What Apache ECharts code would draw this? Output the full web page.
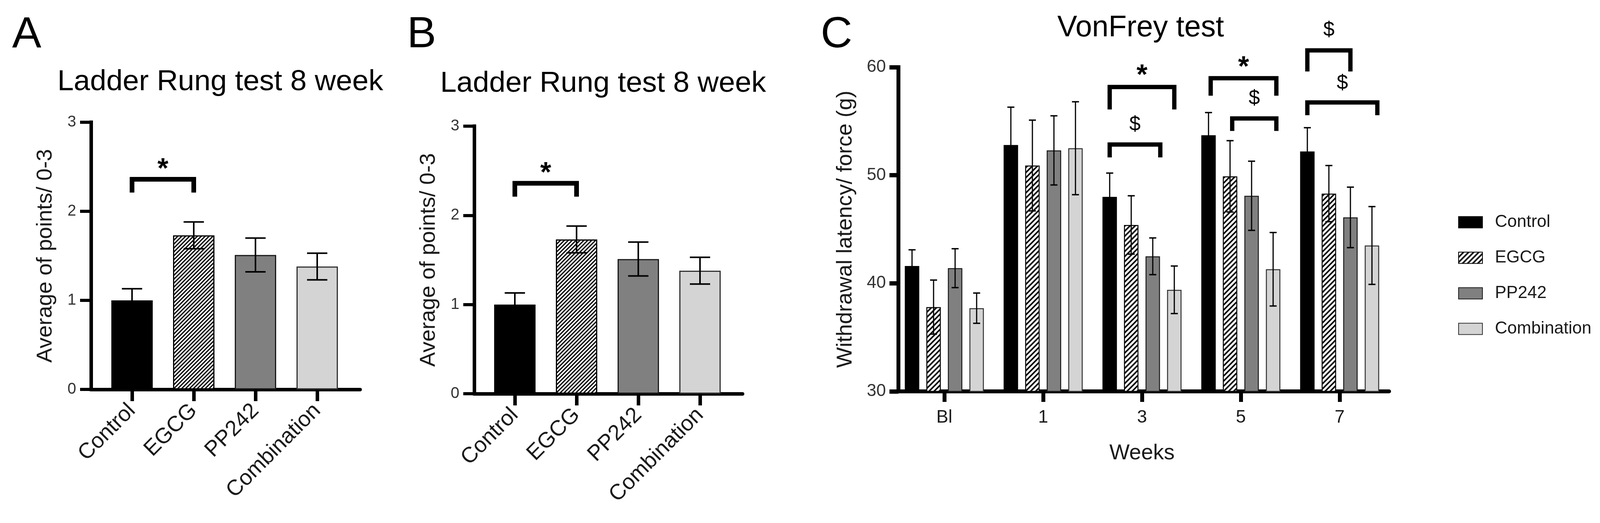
<!DOCTYPE html>
<html>
<head>
<meta charset="utf-8">
<script src="https://cdn.jsdelivr.net/npm/echarts@6/dist/echarts.min.js"></script>
<style>html,body{margin:0;padding:0;background:#fff;overflow:hidden}#c{width:4128px;height:1339px}</style>
</head>
<body>
<div id="c"></div>
<script>
// ---------------- DATA ----------------
const ladderGroups = ['Control', 'EGCG', 'PP242', 'Combination'];
const ladderTitle = 'Ladder Rung test 8 week';
const ladderYName = 'Average of points/ 0-3';
// Panel A
const ladderMeanA = [1.00, 1.73, 1.51, 1.38];
const ladderSemA  = [0.13, 0.15, 0.19, 0.15];
// Panel B
const ladderMeanB = [1.00, 1.73, 1.51, 1.38];
const ladderSemB  = [0.13, 0.15, 0.19, 0.15];
// significance: [fromCat, toCat, topY, legEndY, labelY, label]
const ladderSig = [[0, 0.95, 2.36, 2.21, 2.54, '*']];

// Panel C
const weeks = ['Bl', '1', '3', '5', '7'];
const vfGroups = ['Control', 'EGCG', 'PP242', 'Combination'];
const vfControl     = [41.6, 52.8, 48.0, 53.7, 52.2];
const vfControlErr  = [1.5, 3.5, 2.2, 2.1, 2.2];
const vfEGCG        = [37.8, 50.9, 45.4, 49.9, 48.3];
const vfEGCGErr     = [2.5, 4.2, 2.7, 3.3, 2.6];
const vfPP242       = [41.4, 52.3, 42.5, 48.1, 46.1];
const vfPP242Err    = [1.8, 3.2, 1.7, 3.2, 2.8];
const vfCombo       = [37.7, 52.5, 39.4, 41.3, 43.5];
const vfComboErr    = [1.4, 4.3, 2.2, 3.4, 3.6];
// significance: [weekIndex, fromBarSlot, toBarSlot, topY, legEndY, labelY, label]
const vfSig = [
  [2, 0,   3,    58.17, 56.09, 59.78, '*'],
  [2, 0,   2.35, 52.84, 51.65, 54.65, '$'],
  [3, 0.1, 3.15, 58.98, 57.36, 60.54, '*'],
  [3, 1.1, 3.15, 55.26, 54.10, 57.10, '$'],
  [4, 0,   2,    61.55, 59.60, 63.40, '$'],
  [4, 0,   3.25, 56.74, 55.55, 58.50, '$']
];

// ---------------- STYLE ----------------
const FONT = '"Liberation Sans", Arial, Helvetica, sans-serif';
function hatch(size, lw) {
  const c = document.createElement('canvas');
  c.width = size; c.height = size;
  const ctx = c.getContext('2d');
  ctx.fillStyle = '#fff'; ctx.fillRect(0, 0, size, size);
  ctx.strokeStyle = '#000'; ctx.lineWidth = lw;
  ctx.beginPath();
  ctx.moveTo(-2, size + 2); ctx.lineTo(size + 2, -2);
  ctx.moveTo(-2, 2); ctx.lineTo(2, -2);
  ctx.moveTo(size - 2, size + 2); ctx.lineTo(size + 2, size - 2);
  ctx.stroke();
  return { image: c, repeat: 'repeat' };
}
const hatchAB = hatch(10, 3.2);
const hatchC = hatch(13, 4);
const fillsAB = ['#000000', hatchAB, '#808080', '#d4d4d4'];
const fillsC = ['#000000', hatchC, '#808080', '#d4d4d4'];
const borders = ['#000000', '#000000', '#1a1a1a', '#333333'];

const C_BAR_W = 37, C_GAP = 0.49, C_STEP = C_BAR_W * (1 + C_GAP);
const STAR_FONT = 'bold 72px ' + FONT, DOLLAR_FONT = '52px ' + FONT;

const chart = echarts.init(document.getElementById('c'), null, { renderer: 'canvas', width: 4128, height: 1339 });

function ladderAxes(gAxis, gBand) {
  return {
    x: [
      { type: 'value', gridIndex: gAxis, min: 0, max: 1, axisLine: { show: true, lineStyle: { color: '#000', width: 9 } },
        axisTick: { show: false }, axisLabel: { show: false }, splitLine: { show: false } },
      { type: 'category', gridIndex: gBand, data: ladderGroups,
        axisLine: { show: false },
        axisTick: { show: true, alignWithLabel: true, length: 30, lineStyle: { color: '#000', width: 9 } },
        axisLabel: { rotate: 45, fontSize: 56, color: '#1a1a1a', fontFamily: FONT, margin: 46, interval: 0 } }
    ],
    y: [
      { type: 'value', gridIndex: gAxis, min: 0, max: 3, interval: 1,
        axisLine: { show: true, lineStyle: { color: '#000', width: 9, cap: 'square' } },
        axisTick: { show: true, length: 28, lineStyle: { color: '#000', width: 8 } },
        axisLabel: { fontSize: 40, color: '#333', fontFamily: FONT, margin: 38 },
        splitLine: { show: false },
        name: ladderYName, nameLocation: 'middle', nameGap: 88,
        nameTextStyle: { fontSize: 56, color: '#1a1a1a', fontFamily: FONT } },
      { type: 'value', gridIndex: gBand, min: 0, max: 3, show: false, splitLine: { show: false } }
    ]
  };
}
const axA = ladderAxes(0, 1);
const axB = ladderAxes(2, 3);

const xAxes = [...axA.x, ...axB.x, {
  type: 'category', gridIndex: 4, data: weeks,
  axisLine: { show: true, lineStyle: { color: '#000', width: 10 } },
  axisTick: { show: true, alignWithLabel: true, length: 27, lineStyle: { color: '#000', width: 10 } },
  axisLabel: { fontSize: 46, color: '#1a1a1a', fontFamily: FONT, margin: 44 },
  name: 'Weeks', nameLocation: 'middle', nameGap: 131,
  nameTextStyle: { fontSize: 55, color: '#1a1a1a', fontFamily: FONT }
}];
const yAxes = [...axA.y, ...axB.y, {
  type: 'value', gridIndex: 4, min: 30, max: 60, interval: 10, offset: -9,
  axisLine: { show: true, lineStyle: { color: '#000', width: 10, cap: 'square' } },
  axisTick: { show: true, length: 23, lineStyle: { color: '#000', width: 11 } },
  axisLabel: { fontSize: 44, color: '#333', fontFamily: FONT, margin: 32 },
  splitLine: { show: false },
  name: 'Withdrawal latency/ force (g)', nameLocation: 'middle', nameGap: 107,
  nameTextStyle: { fontSize: 56, color: '#1a1a1a', fontFamily: FONT }
}];

function ladderSeries(mean, sem, xi, yi) {
  return [
    { type: 'bar', xAxisIndex: xi, yAxisIndex: yi, barWidth: 106, z: 2,
      data: mean.map((v, i) => ({ value: v, itemStyle: { color: fillsAB[i], borderColor: borders[i], borderWidth: 3 } })) },
    { type: 'custom', xAxisIndex: xi, yAxisIndex: yi, z: 5,
      data: mean.map((v, i) => [i, v, sem[i]]),
      encode: { x: 0, y: 1 },
      renderItem: function (params, api) {
        const i = api.value(0), m = api.value(1), e = api.value(2);
        const x = api.coord([i, m])[0];
        const yt = api.coord([i, m + e])[1], yb = api.coord([i, m - e])[1];
        const st = { stroke: '#000', lineWidth: 4 };
        return { type: 'group', children: [
          { type: 'line', shape: { x1: x, y1: yt, x2: x, y2: yb }, style: st },
          { type: 'line', shape: { x1: x - 26, y1: yt, x2: x + 26, y2: yt }, style: st },
          { type: 'line', shape: { x1: x - 26, y1: yb, x2: x + 26, y2: yb }, style: st }
        ] };
      } },
    { type: 'custom', xAxisIndex: xi, yAxisIndex: yi, z: 6, clip: false,
      data: ladderSig.map(s => [s[0], s[1], s[2], s[3], s[4]]),
      encode: { x: 0, y: 2 },
      renderItem: function (params, api) {
        const s = ladderSig[params.dataIndex];
        const x1 = api.coord([s[0], s[2]])[0], x2 = api.coord([s[1], s[2]])[0];
        const yt = api.coord([s[0], s[2]])[1], yl = api.coord([s[0], s[3]])[1];
        const ylab = api.coord([s[0], s[4]])[1];
        return { type: 'group', children: [
          { type: 'polyline', shape: { points: [[x1, yl], [x1, yt], [x2, yt], [x2, yl]] },
            style: { stroke: '#000', lineWidth: 12, fill: null, lineJoin: 'miter' } },
          { type: 'text', x: (x1 + x2) / 2, y: ylab + (s[5] === '*' ? 17 : 0),
            style: { text: s[5], fill: '#000', font: s[5] === '*' ? STAR_FONT : DOLLAR_FONT, align: 'center', verticalAlign: 'middle' } }
        ] };
      } }
  ];
}

const vfMeans = [vfControl, vfEGCG, vfPP242, vfCombo];
const vfErrs = [vfControlErr, vfEGCGErr, vfPP242Err, vfComboErr];

const vfBars = vfGroups.map((name, g) => ({
  type: 'bar', name: name, xAxisIndex: 4, yAxisIndex: 4, barWidth: C_BAR_W, barGap: (C_GAP * 100) + '%', z: 2,
  itemStyle: { color: fillsC[g], borderColor: borders[g], borderWidth: 2.5 },
  data: vfMeans[g]
}));

const vfErrData = [];
vfMeans.forEach((arr, g) => arr.forEach((v, i) => vfErrData.push([i, g, v, vfErrs[g][i]])));

const vfErrSeries = {
  type: 'custom', xAxisIndex: 4, yAxisIndex: 4, z: 5,
  data: vfErrData, encode: { x: 0, y: 2 },
  renderItem: function (params, api) {
    const cat = api.value(0), g = api.value(1), m = api.value(2), e = api.value(3);
    const x = api.coord([cat, m])[0] + (g - 1.5) * C_STEP;
    const yt = api.coord([cat, m + e])[1], yb = api.coord([cat, m - e])[1];
    return { type: 'group', children: [
      { type: 'line', shape: { x1: x, y1: yt, x2: x, y2: yb }, style: { stroke: '#000', lineWidth: 3 } },
      { type: 'line', shape: { x1: x - 9, y1: yt, x2: x + 9, y2: yt }, style: { stroke: '#000', lineWidth: 3.5 } },
      { type: 'line', shape: { x1: x - 9, y1: yb, x2: x + 9, y2: yb }, style: { stroke: '#000', lineWidth: 3.5 } }
    ] };
  }
};

const vfSigSeries = {
  type: 'custom', xAxisIndex: 4, yAxisIndex: 4, z: 6, clip: false,
  data: vfSig.map(s => [s[0], s[3]]), encode: { x: 0, y: 1 },
  renderItem: function (params, api) {
    const s = vfSig[params.dataIndex];
    const cx = api.coord([s[0], s[3]])[0];
    const x1 = cx + (s[1] - 1.5) * C_STEP, x2 = cx + (s[2] - 1.5) * C_STEP;
    const yt = api.coord([s[0], s[3]])[1], yl = api.coord([s[0], s[4]])[1];
    const ylab = api.coord([s[0], s[5]])[1];
    return { type: 'group', children: [
      { type: 'polyline', shape: { points: [[x1, yl], [x1, yt], [x2, yt], [x2, yl]] },
        style: { stroke: '#000', lineWidth: 11, fill: null, lineJoin: 'miter' } },
      { type: 'text', x: (x1 + x2) / 2, y: ylab + (s[6] === '*' ? 17 : 0),
        style: { text: s[6], fill: '#000', font: s[6] === '*' ? STAR_FONT : DOLLAR_FONT, align: 'center', verticalAlign: 'middle' } }
    ] };
  }
};

const titleStyle = (size) => ({ fontSize: size, fontWeight: 'normal', color: '#000', fontFamily: FONT });

chart.setOption({
  animation: false,
  backgroundColor: '#ffffff',
  title: [
    { text: 'A', left: 31, top: 34, padding: 0, textStyle: titleStyle(112) },
    { text: 'B', left: 1042, top: 34, padding: 0, textStyle: titleStyle(112) },
    { text: 'C', left: 2101, top: 34, padding: 0, textStyle: titleStyle(112) },
    { text: ladderTitle, left: 564, textAlign: 'center', top: 173, padding: 0, textStyle: titleStyle(75) },
    { text: ladderTitle, left: 1544, textAlign: 'center', top: 177, padding: 0, textStyle: titleStyle(75) },
    { text: 'VonFrey test', left: 2920, textAlign: 'center', top: 34, padding: 0, textStyle: titleStyle(76) }
  ],
  legend: {
    orient: 'vertical', left: 3733, top: 547, padding: 0, align: 'left',
    data: vfGroups, selectedMode: false,
    icon: 'rect', itemWidth: 61, itemHeight: 29, itemGap: 47,
    textStyle: { fontSize: 44, color: '#1a1a1a', fontFamily: FONT, lineHeight: 30, padding: [0, 0, 0, 27] }
  },
  grid: [
    { left: 233, top: 313, width: 689, height: 684 },
    { left: 259, top: 313, width: 632, height: 684 },
    { left: 1214, top: 323, width: 687, height: 685 },
    { left: 1239, top: 323, width: 632, height: 685 },
    { left: 2291, top: 172, width: 1265, height: 830 }
  ],
  xAxis: xAxes,
  yAxis: yAxes,
  series: [
    ...ladderSeries(ladderMeanA, ladderSemA, 1, 1),
    ...ladderSeries(ladderMeanB, ladderSemB, 3, 3),
    ...vfBars,
    vfErrSeries,
    vfSigSeries
  ]
});
</script>
</body>
</html>
